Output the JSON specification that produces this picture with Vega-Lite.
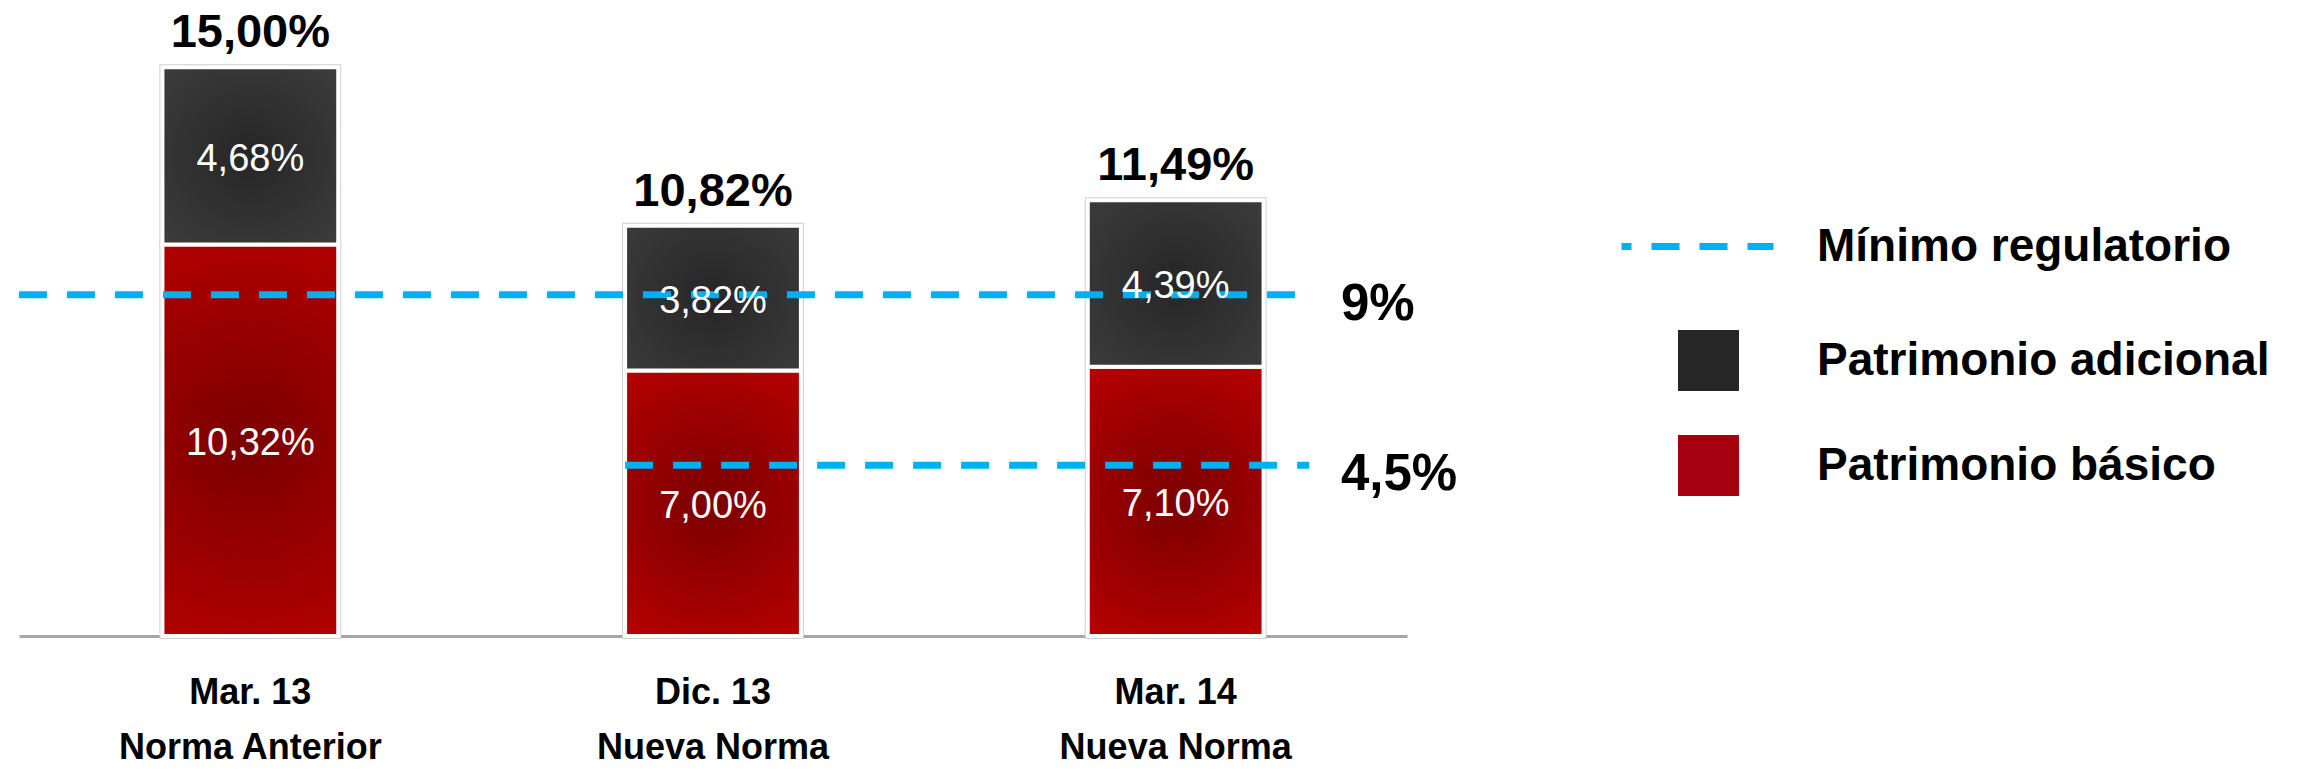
{
  "$schema": "https://vega.github.io/schema/vega-lite/v6.json",
  "width": 1388,
  "height": 636,
  "padding": {"left": 15, "top": 0, "right": 0, "bottom": 0},
  "autosize": {"type": "pad"},
  "background": "white",
  "config": {
    "view": {"stroke": null},
    "locale": {"number": {"decimal": ",", "thousands": ".", "grouping": [3], "currency": ["", " €"]}}
  },
  "datasets": {
    "capital": [
      {"periodo": "Mar. 13\nNorma Anterior", "serie": "Patrimonio básico", "valor": 0.1032},
      {"periodo": "Mar. 13\nNorma Anterior", "serie": "Patrimonio adicional", "valor": 0.0468},
      {"periodo": "Dic. 13\nNueva Norma", "serie": "Patrimonio básico", "valor": 0.07},
      {"periodo": "Dic. 13\nNueva Norma", "serie": "Patrimonio adicional", "valor": 0.0382},
      {"periodo": "Mar. 14\nNueva Norma", "serie": "Patrimonio básico", "valor": 0.071},
      {"periodo": "Mar. 14\nNueva Norma", "serie": "Patrimonio adicional", "valor": 0.0439}
    ],
    "minimos": [
      {"serie": "Mínimo regulatorio", "nivel": 0.09, "desde": "Mar. 13\nNorma Anterior", "hasta": "Mar. 14\nNueva Norma"},
      {"serie": "Mínimo regulatorio", "nivel": 0.045, "desde": "Dic. 13\nNueva Norma", "hasta": "Mar. 14\nNueva Norma"}
    ]
  },
  "layer": [
    {
      "data": {"name": "capital"},
      "mark": {"type": "bar", "stroke": "#cfcfcf", "strokeWidth": 6},
      "encoding": {
        "x": {
          "field": "periodo", "type": "nominal", "title": null,
          "scale": {"domain": ["Mar. 13\nNorma Anterior", "Dic. 13\nNueva Norma", "Mar. 14\nNueva Norma"], "paddingInner": 0.62, "paddingOuter": 0.31},
          "axis": {
            "title": null, "labelAngle": 0, "ticks": false, "tickSize": 0,
            "labelFont": "Liberation Sans", "labelFontWeight": "bold", "labelFontSize": 36,
            "labelColor": "#000000", "labelLineHeight": 55, "labelBaseline": "top", "labelPadding": 39,
            "labelExpr": "split(datum.label, '\\n')", "labelLimit": 1000,
            "domainColor": "#a6a6a6", "domainWidth": 3, "grid": false
          }
        },
        "y": {"field": "valor", "type": "quantitative", "stack": "zero", "scale": {"domain": [0, 0.1677], "nice": false, "zero": true}, "axis": null},
        "order": {"field": "serie", "sort": "descending"},
        "color": {
          "field": "serie", "type": "nominal",
          "scale": {"domain": ["Patrimonio adicional", "Patrimonio básico"], "range": ["#262626", "#a50010"]},
          "legend": {
            "orient": "none", "legendX": 1659, "legendY": 330, "title": null, "padding": 0,
            "symbolType": "square", "symbolSize": 3721, "symbolStrokeWidth": 0, "symbolOpacity": 1,
            "labelFont": "Liberation Sans", "labelFontWeight": "bold", "labelFontSize": 46, "labelColor": "#000000",
            "labelOffset": 78, "rowPadding": 44, "labelLimit": 1000
          }
        }
      }
    },
    {
      "data": {"name": "capital"},
      "mark": {"type": "bar", "stroke": "#ffffff", "strokeWidth": 4},
      "encoding": {
        "x": {"field": "periodo", "type": "nominal", "title": null},
        "y": {"field": "valor", "type": "quantitative", "stack": "zero", "axis": null},
        "order": {"field": "serie", "sort": "descending"},
        "detail": {"field": "serie"},
        "fill": {
          "condition": {
            "test": "datum.serie === 'Patrimonio básico'",
            "value": {"gradient": "radial", "x1": 0.5, "y1": 0.5, "r1": 0, "x2": 0.5, "y2": 0.5, "r2": 0.75,
              "stops": [{"offset": 0, "color": "#7a0000"}, {"offset": 1, "color": "#c60000"}]}
          },
          "value": {"gradient": "radial", "x1": 0.5, "y1": 0.5, "r1": 0, "x2": 0.5, "y2": 0.5, "r2": 0.75,
            "stops": [{"offset": 0, "color": "#262626"}, {"offset": 1, "color": "#3e3e3e"}]}
        }
      }
    },
    {
      "data": {"name": "minimos"},
      "transform": [{"filter": "datum.nivel === 0.09"}],
      "mark": {"type": "rule", "stroke": "#00b0f0", "strokeWidth": 7},
      "encoding": {
        "x": {"field": "desde", "type": "nominal", "bandPosition": -0.816, "title": null},
        "x2": {"field": "hasta", "bandPosition": 1.26},
        "y": {"field": "nivel", "type": "quantitative", "axis": null},
        "strokeDash": {
          "field": "serie", "type": "nominal",
          "scale": {"domain": ["Mínimo regulatorio"], "range": [[28, 20]]},
          "legend": {
            "orient": "none", "legendX": 1599, "legendY": 167, "title": null, "padding": 0,
            "symbolType": "stroke", "symbolSize": 23104, "symbolStrokeColor": "#00b0f0", "symbolStrokeWidth": 7,
            "symbolDashOffset": 18,
            "labelFont": "Liberation Sans", "labelFontWeight": "bold", "labelFontSize": 46, "labelColor": "#000000",
            "labelOffset": 40, "labelLimit": 1000
          }
        }
      }
    },
    {
      "data": {"name": "minimos"},
      "transform": [{"filter": "datum.nivel === 0.045"}],
      "mark": {"type": "rule", "stroke": "#00b0f0", "strokeWidth": 7},
      "encoding": {
        "x": {"field": "desde", "type": "nominal", "bandPosition": 0, "title": null},
        "x2": {"field": "hasta", "bandPosition": 1.26},
        "y": {"field": "nivel", "type": "quantitative", "axis": null},
        "strokeDash": {"field": "serie", "type": "nominal"}
      }
    },
    {
      "data": {"name": "minimos"},
      "mark": {"type": "text", "font": "Liberation Sans", "fontWeight": "bold", "fontSize": 51, "align": "left", "baseline": "middle", "dy": 10, "color": "#000000"},
      "encoding": {
        "x": {"field": "hasta", "type": "nominal", "bandPosition": 1.44, "title": null},
        "y": {"field": "nivel", "type": "quantitative", "axis": null},
        "text": {"field": "nivel", "type": "quantitative", "format": ".1~%"}
      }
    },
    {
      "data": {"name": "capital"},
      "mark": {"type": "text", "font": "Liberation Sans", "fontSize": 38, "color": "#ffffff", "baseline": "middle", "dy": 4},
      "encoding": {
        "x": {"field": "periodo", "type": "nominal", "title": null},
        "y": {"field": "valor", "type": "quantitative", "stack": "zero", "bandPosition": 0.5, "axis": null},
        "order": {"field": "serie", "sort": "descending"},
        "detail": {"field": "serie"},
        "text": {"field": "valor", "type": "quantitative", "format": ".2%"}
      }
    },
    {
      "data": {"name": "capital"},
      "mark": {"type": "text", "font": "Liberation Sans", "fontWeight": "bold", "fontSize": 47, "color": "#000000", "baseline": "middle", "dy": -34},
      "encoding": {
        "x": {"field": "periodo", "type": "nominal", "title": null},
        "y": {"aggregate": "sum", "field": "valor", "type": "quantitative", "axis": null},
        "text": {"aggregate": "sum", "field": "valor", "type": "quantitative", "format": ".2%"}
      }
    }
  ]
}
